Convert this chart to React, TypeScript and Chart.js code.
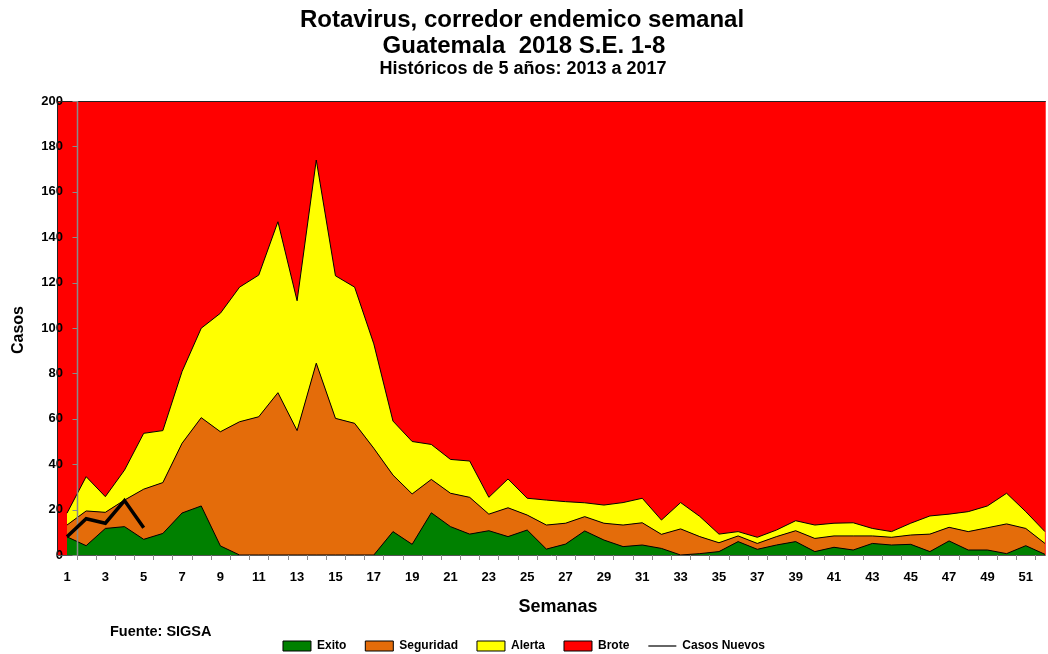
import React, { useEffect, useRef } from 'react';
import { Chart, registerables } from 'chart.js';

Chart.register(...registerables);

const FONT = "'Liberation Sans', Arial, Helvetica, sans-serif";

const titleLines = ['Rotavirus, corredor endemico semanal', 'Guatemala  2018 S.E. 1-8'];
const subtitleText = 'Históricos de 5 años: 2013 a 2017';
const yAxisTitle = 'Casos';
const xAxisTitle = 'Semanas';
const sourceText = 'Fuente: SIGSA';

const weeks = [
  1, 2, 3, 4, 5, 6, 7, 8, 9, 10, 11, 12, 13, 14, 15, 16, 17, 18, 19, 20, 21, 22, 23, 24, 25, 26,
  27, 28, 29, 30, 31, 32, 33, 34, 35, 36, 37, 38, 39, 40, 41, 42, 43, 44, 45, 46, 47, 48, 49, 50, 51, 52,
];
const xTickLabels = [1, 3, 5, 7, 9, 11, 13, 15, 17, 19, 21, 23, 25, 27, 29, 31, 33, 35, 37, 39, 41, 43, 45, 47, 49, 51];
const yTickValues = [0, 20, 40, 60, 80, 100, 120, 140, 160, 180, 200];

const exito = [
  8, 4.1, 11.7, 12.5, 6.9, 9.5, 18.5, 21.6, 4, 0, 0, 0, 0, 0, 0, 0, 0, 10.3, 4.7, 18.6, 12.5, 9.2, 10.7, 8.1, 11, 2.6,
  4.8, 10.6, 6.6, 3.7, 4.4, 2.9, 0, 0.6, 1.5, 5.9, 2.5, 4.4, 5.9, 1.5, 3.4, 2.2, 5.1, 4.4, 4.7, 1.5, 6.2, 2.2, 2.2, 0.6, 4.1, 0.3,
];
const seguridad = [
  5.2, 15.3, 7.1, 11.7, 22.1, 22.4, 30.7, 38.9, 50.3, 58.7, 60.9, 71.5, 54.8, 84.5, 60.2, 58, 47, 24.9, 22.2, 14.7, 14.7, 16.2, 7.3, 12.7, 6.6, 10.6,
  9.2, 6.3, 7.4, 9.5, 9.8, 6.2, 11.5, 7.5, 3.9, 2.5, 2.6, 3.7, 4.8, 5.8, 5, 6.2, 3.3, 3.4, 4.1, 7.7, 6, 8.1, 9.8, 13.1, 7.6, 4.8,
];
const alerta = [
  5.2, 15.1, 6.9, 13.2, 24.6, 22.9, 31.6, 39.4, 52.2, 59.3, 62.4, 75.3, 57.2, 89.5, 62.8, 60, 46, 23.8, 23.1, 15.4, 14.9, 16, 7.4, 12.7, 7.4, 11,
  9.5, 6.1, 8, 9.9, 10.8, 6.3, 11.6, 8.9, 3.8, 1.9, 2.7, 2.9, 4.4, 5.9, 5.6, 5.8, 3.3, 2.5, 5.2, 8, 5.8, 8.8, 9.6, 13.5, 7.4, 5.2,
];
const brote = [
  181.6, 165.5, 174.3, 162.6, 146.4, 145.2, 119.2, 100.1, 93.5, 82, 76.7, 53.2, 88, 26, 77, 82, 107, 141, 150, 151.3, 157.9, 158.6, 174.6, 166.5, 175, 175.8,
  176.5, 177, 178, 176.9, 175, 184.6, 176.9, 183, 190.8, 189.7, 192.2, 189, 184.9, 186.8, 186, 185.8, 188.3, 189.7, 186, 182.8, 182, 180.9, 178.4, 172.8, 180.9, 189.7,
];
const casosWeeks = [1, 2, 3, 4, 5];
const casosNuevos = [8, 16, 14, 24, 12];

const yAxisLineAt = 1.5;

const toPts = (xs: number[], vals: number[]) => vals.map((v, i) => ({ x: xs[i], y: v }));

const decorPlugin = {
  id: 'decor',
  beforeDraw(chart: any) {
    const { ctx, chartArea: a } = chart;
    ctx.save();
    ctx.fillStyle = '#FF0000';
    ctx.fillRect(a.left - 7, a.top, a.right - a.left + 7, a.bottom - a.top);
    ctx.restore();
  },
  afterDatasetDraw(chart: any, args: any) {
    if (args.index !== 0) return;
    const { ctx, chartArea: a, scales } = chart;
    const xs = scales.x;
    const ys = scales.y;
    ctx.save();
    ctx.strokeStyle = '#222';
    ctx.lineWidth = 1;
    ctx.beginPath();
    ctx.moveTo(a.left - 6.5, a.bottom);
    ctx.lineTo(a.left - 6.5, a.top + 0.5);
    ctx.lineTo(a.right, a.top + 0.5);
    ctx.stroke();
    ctx.strokeStyle = '#555';
    ctx.beginPath();
    ctx.moveTo(a.left - 7, a.bottom + 0.5);
    ctx.lineTo(a.right, a.bottom + 0.5);
    ctx.stroke();
    const gx = Math.round(xs.getPixelForValue(yAxisLineAt)) + 0.5;
    ctx.strokeStyle = '#8a8a8a';
    ctx.lineWidth = 1.5;
    ctx.beginPath();
    ctx.moveTo(gx, a.top);
    ctx.lineTo(gx, a.bottom);
    ctx.stroke();
    ctx.lineWidth = 1;
    yTickValues.forEach((v) => {
      const py = Math.round(ys.getPixelForValue(v)) + 0.5;
      ctx.beginPath();
      ctx.moveTo(gx - 5, py);
      ctx.lineTo(gx, py);
      ctx.stroke();
    });
    for (let k = 1; k < weeks.length; k++) {
      const px = Math.round(xs.getPixelForValue(weeks[k - 1] + 0.5)) + 0.5;
      ctx.beginPath();
      ctx.moveTo(px, a.bottom);
      ctx.lineTo(px, a.bottom + 5);
      ctx.stroke();
    }
    ctx.restore();
  },
  afterDraw(chart: any) {
    const { ctx } = chart;
    ctx.save();
    ctx.fillStyle = '#000';
    ctx.textAlign = 'center';
    ctx.textBaseline = 'middle';
    ctx.font = `bold 24px ${FONT}`;
    ctx.fillText(titleLines[0], 522, 20);
    ctx.fillText(titleLines[1], 524, 46);
    ctx.font = `bold 18px ${FONT}`;
    ctx.fillText(subtitleText, 523, 69);
    ctx.font = `bold 18px ${FONT}`;
    ctx.fillText(xAxisTitle, 558, 607);
    ctx.save();
    ctx.translate(19, 330);
    ctx.rotate(-Math.PI / 2);
    ctx.font = `bold 16px ${FONT}`;
    ctx.fillText(yAxisTitle, 0, 0);
    ctx.restore();
    ctx.textAlign = 'left';
    ctx.font = `bold 14.5px ${FONT}`;
    ctx.fillText(sourceText, 110, 632);
    ctx.restore();
  },
};

export default function App() {
  const ref = useRef<HTMLCanvasElement | null>(null);

  useEffect(() => {
    if (!ref.current) return;
    const common = { pointRadius: 0, pointHoverRadius: 0, tension: 0, borderColor: '#000', borderWidth: 1, stack: 'corredor', pointStyle: 'rect' };
    const chart = new Chart(ref.current, {
      type: 'line',
      data: {
        datasets: [
          { ...common, label: 'Exito', data: toPts(weeks, exito), backgroundColor: '#008000', fill: 'origin' },
          { ...common, label: 'Seguridad', data: toPts(weeks, seguridad), backgroundColor: '#E46C0A', fill: '-1' },
          { ...common, label: 'Alerta', data: toPts(weeks, alerta), backgroundColor: '#FFFF00', fill: '-1' },
          { ...common, label: 'Brote', data: toPts(weeks, brote), backgroundColor: '#FF0000', fill: '-1' },
          {
            label: 'Casos Nuevos',
            data: toPts(casosWeeks, casosNuevos),
            borderColor: '#000',
            backgroundColor: '#000',
            borderWidth: 3.5,
            pointRadius: 0,
            pointHoverRadius: 0,
            tension: 0,
            fill: false,
            stack: 'casos',
            order: -1,
            pointStyle: 'line',
          },
        ],
      } as any,
      options: {
        animation: false,
        responsive: true,
        maintainAspectRatio: false,
        layout: { padding: { top: 101, left: 0, right: 0, bottom: -8 } },
        scales: {
          x: {
            type: 'linear',
            min: 0.844,
            max: 52.04,
            afterFit: (s: any) => {
              s.height = 66;
            },
            afterBuildTicks: (s: any) => {
              s.ticks = xTickLabels.map((v) => ({ value: v }));
            },
            grid: { display: false, drawTicks: false },
            border: { display: false },
            ticks: {
              autoSkip: false,
              maxRotation: 0,
              padding: 15,
              color: '#000',
              font: { family: FONT, weight: 'bold', size: 13 },
              callback: (v: any) => String(v),
            },
          },
          y: {
            stacked: true,
            min: 0,
            max: 200,
            afterFit: (s: any) => {
              s.width = 64;
            },
            grid: { display: false, drawTicks: false },
            border: { display: false },
            ticks: {
              stepSize: 20,
              padding: 1,
              color: '#000',
              font: { family: FONT, weight: 'bold', size: 13 },
            },
          },
        },
        plugins: {
          tooltip: { enabled: false },
          title: { display: false },
          legend: {
            display: true,
            position: 'bottom',
            labels: {
              usePointStyle: true,
              pointStyleWidth: 28,
              boxHeight: 10,
              padding: 19,
              color: '#000',
              font: { family: FONT, weight: 'bold', size: 12 },
              sort: (a: any, b: any) => a.datasetIndex - b.datasetIndex,
              generateLabels: (c: any) => {
                const items = (Chart.defaults.plugins.legend.labels as any).generateLabels(c);
                return items.map((it: any) =>
                  it.text === 'Casos Nuevos'
                    ? { ...it, pointStyle: 'line', strokeStyle: '#666', lineWidth: 2 }
                    : { ...it, pointStyle: 'rect', strokeStyle: '#000', lineWidth: 1 }
                );
              },
            },
          },
        },
      } as any,
      plugins: [decorPlugin],
    });
    return () => chart.destroy();
  }, []);

  return (
    <div style={{ position: 'absolute', left: 0, top: 0, width: 1048, height: 654, background: '#fff' }}>
      <canvas ref={ref} />
    </div>
  );
}
